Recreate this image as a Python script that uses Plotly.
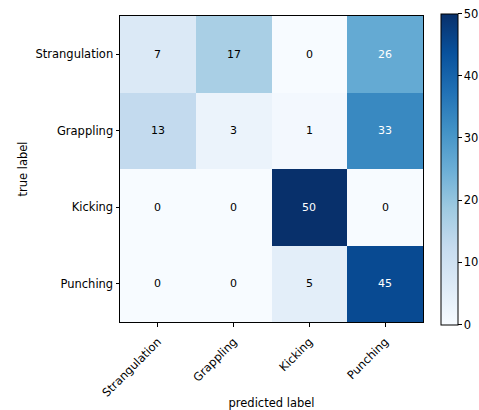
import plotly.graph_objects as go

classes = ["Strangulation", "Grappling", "Kicking", "Punching"]
cm = [
    [7, 17, 0, 26],
    [13, 3, 1, 33],
    [0, 0, 50, 0],
    [0, 0, 5, 45],
]
cbar_ticks = [0, 10, 20, 30, 40, 50]

vmax = 50
thresh = vmax / 2.0
FONT = "DejaVu Sans"
FS = 11.5

fig = go.Figure()
fig.add_trace(go.Heatmap(
    z=cm, x=classes, y=classes,
    colorscale="Blues", zmin=0, zmax=vmax,
    colorbar=dict(
        thickness=17, thicknessmode="pixels",
        len=311, lenmode="pixels",
        x=1.059, xanchor="left", xpad=0,
        y=0.5, yanchor="middle", ypad=0,
        outlinewidth=1, outlinecolor="black",
        tickvals=cbar_ticks, ticks="outside", ticklen=3.5, tickcolor="black",
        tickfont=dict(family=FONT, size=FS, color="black"),
    ),
    hoverinfo="z",
))

annotations = []
for i, row in enumerate(cm):
    for j, v in enumerate(row):
        annotations.append(dict(
            x=classes[j], y=classes[i], text=str(v), showarrow=False,
            font=dict(family=FONT, size=11,
                      color="white" if v > thresh else "black"),
        ))

fig.update_layout(
    width=479, height=410,
    margin=dict(l=120, r=56, t=16, b=88, autoexpand=False),
    paper_bgcolor="white", plot_bgcolor="white",
    font=dict(family=FONT, size=FS, color="black"),
    annotations=annotations,
    xaxis=dict(
        automargin=False,
        tickangle=-45, ticks="outside", ticklen=3.5, tickcolor="black",
        ticklabelstandoff=4,
        showline=True, linecolor="black", linewidth=1, mirror=True,
        showgrid=False, zeroline=False,
        title=dict(text="predicted label", standoff=3,
                   font=dict(family=FONT, size=FS)),
        tickfont=dict(family=FONT, size=FS),
    ),
    yaxis=dict(
        automargin=False,
        autorange="reversed", ticks="outside", ticklen=3.5, tickcolor="black",
        showline=True, linecolor="black", linewidth=1, mirror=True,
        showgrid=False, zeroline=False,
        title=dict(text="true label", standoff=5,
                   font=dict(family=FONT, size=FS)),
        tickfont=dict(family=FONT, size=FS),
    ),
)

fig.write_html("out.html")
